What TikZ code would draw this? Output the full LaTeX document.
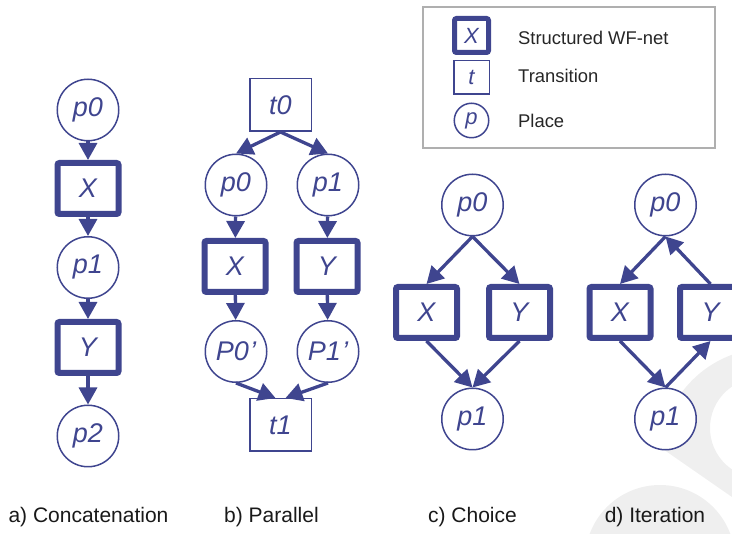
\documentclass[tikz,border=0pt]{standalone}
\usepackage{fontspec}
\setmainfont{Liberation Sans}
\usetikzlibrary{arrows.meta,calc}
\definecolor{wfblue}{RGB}{63,69,143}
\definecolor{wm}{RGB}{239,239,239}
\definecolor{lgray}{RGB}{175,175,175}
\newcommand{\lblfont}{\fontsize{27}{30}\selectfont\itshape}
\newcommand{\leglblfont}{\fontsize{22}{24}\selectfont\itshape}
\newcommand{\legtxtfont}{\fontsize{18.4}{20}\selectfont}
\newcommand{\capfont}{\fontsize{21}{24}\selectfont}
\begin{document}
\begin{tikzpicture}[x=1pt,y=-1pt,
  place/.style={circle,draw=wfblue,fill=white,line width=1.5pt,minimum size=61.5pt,inner sep=0pt,text=wfblue,font=\lblfont},
  trans/.style={rectangle,draw=wfblue,fill=white,line width=1.5pt,minimum width=61.5pt,minimum height=52.5pt,inner sep=0pt,text=wfblue,font=\lblfont},
  swf/.style={rectangle,draw=wfblue,fill=white,line width=6pt,rounded corners=2pt,minimum width=61pt,minimum height=51pt,inner sep=0pt,text=wfblue,font=\lblfont},
  legswf/.style={rectangle,draw=wfblue,fill=white,line width=5pt,rounded corners=2pt,minimum size=34pt,inner sep=0pt,text=wfblue,font=\leglblfont},
  legtrans/.style={rectangle,draw=wfblue,fill=white,line width=1.5pt,minimum width=35.5pt,minimum height=33.5pt,inner sep=0pt,text=wfblue,font=\leglblfont},
  legplace/.style={circle,draw=wfblue,fill=white,line width=1.5pt,minimum size=34.5pt,inner sep=0pt,text=wfblue,font=\leglblfont},
  legtxt/.style={anchor=base west,inner sep=0pt,font=\legtxtfont,text=black!85},
  captxt/.style={anchor=base,inner sep=0pt,font=\capfont,text=black!90},
  flow/.style={draw=wfblue,line width=3.3pt,-{Triangle[length=17pt,width=18pt]}}]
\useasboundingbox (0,0) rectangle (732,534);
% faint watermark
\begin{scope}
  \clip (0,0) rectangle (732,534);
  \begin{scope}
    \clip (600,250) -- (800,250) -- (800,544.2) -- (600,405.4) -- cycle;
    \fill[wm,even odd rule] (770,458) circle[radius=110pt] (760,428) circle[radius=50pt];
  \end{scope}
  \fill[wm] (660,560) circle[radius=75pt];
\end{scope}

% legend
\draw[lgray,line width=1.5pt] (423,7) rectangle (715,148);
\node[legswf] (lx) at (471.5,35.5) {X};
\node[legtrans] (lt) at (471.5,77.5) {t};
\node[legplace] (lp) at (471.5,120.5) {p};
\node[legtxt] (lxt) at (518,45) {Structured WF-net};
\node[legtxt] (ltt) at (518,83) {Transition};
\node[legtxt] (lpt) at (518,128) {Place};

% a) concatenation
\node[place] (a0) at (88,110) {p0};
\node[swf] (ax) at (88,188.5) {X};
\node[place] (a1) at (88,267.5) {p1};
\node[swf] (ay) at (88,347.5) {Y};
\node[place] (a2) at (88,436) {p2};
\draw[flow] (a0) -- (ax);
\draw[flow] (ax) -- (a1);
\draw[flow] (a1) -- (ay);
\draw[flow] (ay) -- (a2);

% b) parallel
\node[trans] (bt0) at (280.5,105) {t0};
\node[place] (bp0) at (236,185) {p0};
\node[place] (bp1) at (328,185) {p1};
\node[swf] (bx) at (235,266.5) {X};
\node[swf] (by) at (327,266.5) {Y};
\node[place] (bq0) at (236,351.5) {P0\kern1pt\textquoteright};
\node[place] (bq1) at (328,351.5) {P1\kern1pt\textquoteright};
\node[trans] (bt1) at (280.5,425) {t1};
\draw[flow] (bt0.south) -- (bp0.north);
\draw[flow] (bt0.south) -- (bp1.north);
\draw[flow] (bp0) -- (bx);
\draw[flow] (bp1) -- (by);
\draw[flow] (bx) -- (bq0);
\draw[flow] (by) -- (bq1);
\draw[flow] (bq0.south) -- ($(bt1.north)+(-5,0)$);
\draw[flow] (bq1.south) -- ($(bt1.north)+(5,0)$);

% c) choice
\node[place] (c0) at (472.5,205) {p0};
\node[swf] (cx) at (426.5,312.5) {X};
\node[swf] (cy) at (519.5,312.5) {Y};
\node[place] (c1) at (472.5,419) {p1};
\draw[flow] (c0.south) -- (cx.north);
\draw[flow] (c0.south) -- (cy.north);
\draw[flow] (cx.south) -- (c1.north);
\draw[flow] (cy.south) -- (c1.north);

% d) iteration
\node[place] (d0) at (665.5,205) {p0};
\node[swf] (dx) at (620,312.5) {X};
\node[swf] (dy) at (710.5,312.5) {Y};
\node[place] (d1) at (665.5,419) {p1};
\draw[flow] (d0.south) -- (dx.north);
\draw[flow] (dx.south) -- (d1.north);
\draw[flow] (d1.north) -- (dy.south);
\draw[flow] (dy.north) -- (d0.south);

% captions
\node[captxt] (capa) at (88.5,523) {a) Concatenation};
\node[captxt] (capb) at (271.5,523) {b) Parallel};
\node[captxt] (capc) at (472.5,523) {c) Choice};
\node[captxt] (capd) at (655,523) {d) Iteration};
\end{tikzpicture}
\end{document}
